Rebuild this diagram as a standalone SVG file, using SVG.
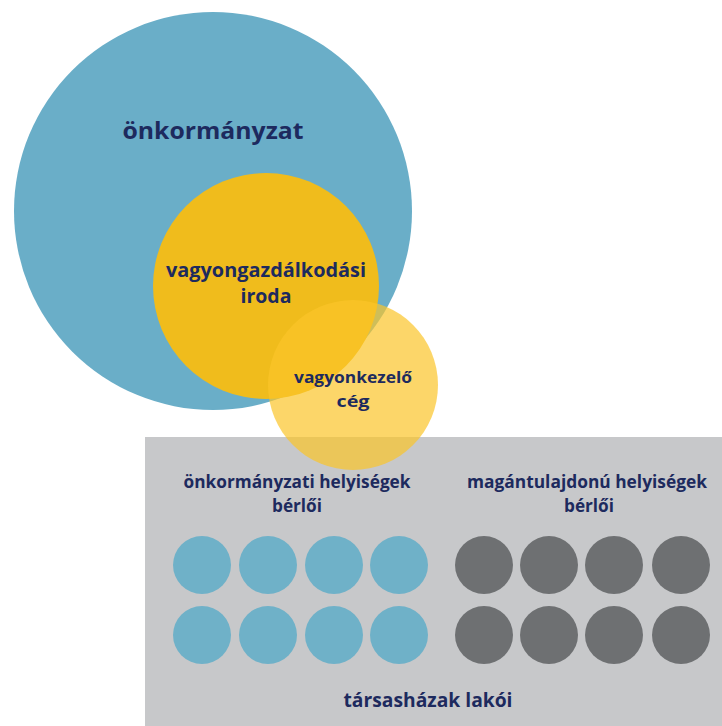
<svg xmlns="http://www.w3.org/2000/svg" width="722" height="726" viewBox="0 0 722 726">
<style>
.t{font-family:"Open Sans","Liberation Sans",sans-serif;font-weight:700;fill:#1d2a5e;text-anchor:middle}
.b{fill:#6fb1c8}
.g{fill:#6e7072}
</style>
<rect width="722" height="726" fill="#ffffff"/>
<g id="tarsashazak">
<rect x="145" y="437" width="577" height="289" fill="#c7c8ca"/>
<text class="t" x="428" y="707" font-size="19" textLength="169" lengthAdjust="spacingAndGlyphs">társasházak lakói</text>
</g>
<g id="onkormanyzat">
<circle cx="213" cy="211" r="199" fill="#6aaec8"/>
<text class="t" x="213" y="139" font-size="24" textLength="181" lengthAdjust="spacingAndGlyphs">önkormányzat</text>
</g>
<g id="vagyongazdalkodasi-iroda">
<circle cx="266" cy="286" r="113" fill="#f0bc1c"/>
<text class="t" x="266" y="277" font-size="19" textLength="200" lengthAdjust="spacingAndGlyphs">vagyongazdálkodási</text>
<text class="t" x="266" y="303" font-size="19" textLength="51" lengthAdjust="spacingAndGlyphs">iroda</text>
</g>
<g id="vagyonkezelo-ceg">
<circle cx="353" cy="385" r="85" fill="#fbc42a" fill-opacity="0.7"/>
<text class="t" x="353" y="383" font-size="16" textLength="118" lengthAdjust="spacingAndGlyphs">vagyonkezelő</text>
<text class="t" x="353" y="407" font-size="16" textLength="33" lengthAdjust="spacingAndGlyphs">cég</text>
</g>
<g id="onkormanyzati-berlok">
<text class="t" x="297" y="488" font-size="17" textLength="227" lengthAdjust="spacingAndGlyphs">önkormányzati helyiségek</text>
<text class="t" x="297" y="512" font-size="17" textLength="50" lengthAdjust="spacingAndGlyphs">bérlői</text>
<circle class="b" cx="202" cy="565" r="29"/>
<circle class="b" cx="268" cy="565" r="29"/>
<circle class="b" cx="334" cy="565" r="29"/>
<circle class="b" cx="399" cy="565" r="29"/>
<circle class="b" cx="202" cy="635" r="29"/>
<circle class="b" cx="268" cy="635" r="29"/>
<circle class="b" cx="334" cy="635" r="29"/>
<circle class="b" cx="399" cy="635" r="29"/>
</g>
<g id="magantulajdonu-berlok">
<text class="t" x="587" y="488" font-size="17" textLength="240" lengthAdjust="spacingAndGlyphs">magántulajdonú helyiségek</text>
<text class="t" x="589" y="512" font-size="17" textLength="50" lengthAdjust="spacingAndGlyphs">bérlői</text>
<circle class="g" cx="484" cy="565" r="29"/>
<circle class="g" cx="549" cy="565" r="29"/>
<circle class="g" cx="614" cy="565" r="29"/>
<circle class="g" cx="681" cy="565" r="29"/>
<circle class="g" cx="484" cy="635" r="29"/>
<circle class="g" cx="549" cy="635" r="29"/>
<circle class="g" cx="614" cy="635" r="29"/>
<circle class="g" cx="681" cy="635" r="29"/>
</g>
<g id="connectors"/>
</svg>
